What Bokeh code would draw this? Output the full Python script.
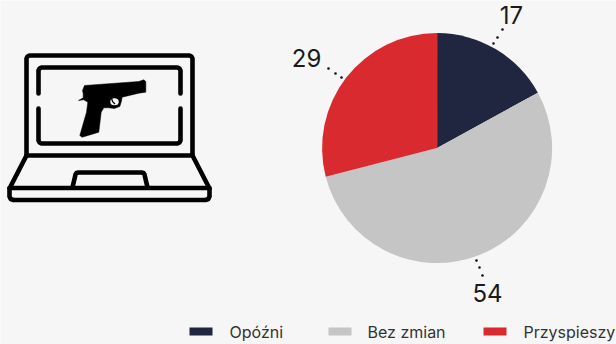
import numpy as np
from bokeh.plotting import figure
from bokeh.models import Range1d
from bokeh.core.properties import value
from bokeh.embed import file_html
from bokeh.resources import INLINE

categories = ["Opóźni", "Bez zmian", "Przyspieszy"]
values = [17, 54, 29]
colors = ["#20263f", "#c5c5c5", "#d92a30"]
BG = "#f6f6f6"
W, H = 616, 344

p = figure(width=W, height=H, output_backend="svg", toolbar_location=None,
           x_range=Range1d(0, W), y_range=Range1d(H, 0),
           background_fill_color=BG, border_fill_color=BG,
           outline_line_color=None, min_border=0)
p.axis.visible = False
p.grid.visible = False

# Pie, clockwise from the top
cx, cy, r = [436.6], [147.6], 115
cum = np.pi / 2 - np.cumsum([0] + values) / sum(values) * 2 * np.pi
for i, c in enumerate(colors):
    p.wedge(x=cx, y=cy, radius=r, start_angle=cum[i], end_angle=cum[i + 1],
            direction="clock", fill_color=c, line_color=None)

# Leader dots
dots_x = [493, 497, 502, 341, 335, 328, 476, 479, 482]
dots_y = [43, 37, 29, 77, 73, 68, 260, 267, 275]
p.scatter(dots_x, dots_y, size=2.6, color="#111111", line_color=None)

# Value labels
p.text(x=[511, 487, 306], y=[14, 292, 57], text=[str(v) for v in values],
       text_font=value("Inter"), text_font_size="24px", text_color="#1a1a1a",
       text_align="center", text_baseline="middle")

# Legend
leg_x = [189, 328, 483]
leg_tx = [229, 367, 523]
for lx, c in zip(leg_x, colors):
    p.quad(left=[lx], right=[lx + 23], top=[327], bottom=[335], fill_color=c, line_color=None)
p.text(x=leg_tx, y=[331] * 3, text=categories, text_font=value("Inter"),
       text_font_size="16px", text_color="#333333", text_align="left", text_baseline="middle")

# Laptop icon
ik = dict(line_color="#000000", line_width=4.6, line_join="round", line_cap="round")
p.line([26, 26, 27, 29, 189, 191, 192, 192, 26], [155, 58, 56, 55, 55, 56, 58, 155, 155], **ik)
p.line([38, 38, 39, 41, 177, 179, 180, 180], [93, 70, 68, 67, 67, 68, 70, 93], **ik)
p.line([38, 38, 39, 41, 177, 179, 180, 180], [108, 140, 142, 143, 143, 142, 140, 108], **ik)
p.line([26, 9, 9, 10.2, 13, 205, 207.8, 209, 209, 192],
       [155, 188, 196, 198.5, 199.5, 199.5, 198.5, 196, 188, 155], **ik)
p.line([9, 209], [187.5, 187.5], **ik)
p.line([72, 75, 76, 78, 141, 143, 144, 147], [187, 174, 172.5, 172, 172, 172.5, 174, 187], **ik)

# Pistol
gun_x = [84, 138.3, 143.3, 145.3, 145.3, 138.3, 121.7, 120.7, 119.3, 114, 108.3, 103.3, 100.7, 98.3, 81.7, 79.3, 86, 87.3, 83.3, 78, 82.7, 82.7, 82, 84]
gun_y = [85, 81, 79.3, 81, 91.7, 92.7, 96.7, 101.7, 106, 108, 107.3, 107.3, 111.7, 131.7, 136.7, 135, 111.7, 101.7, 99.3, 100, 97.3, 93.3, 90, 85]
p.patch(gun_x, gun_y, fill_color="#000000", line_color="#000000", line_width=0.5)
p.ellipse(x=[114], y=[101.3], width=8.5, height=7, fill_color=BG, line_color=None)
p.line([111, 112, 114.5], [97.5, 101, 103.5], line_color="#000000", line_width=1.2)

open("out.html", "w").write(file_html(p, INLINE))
